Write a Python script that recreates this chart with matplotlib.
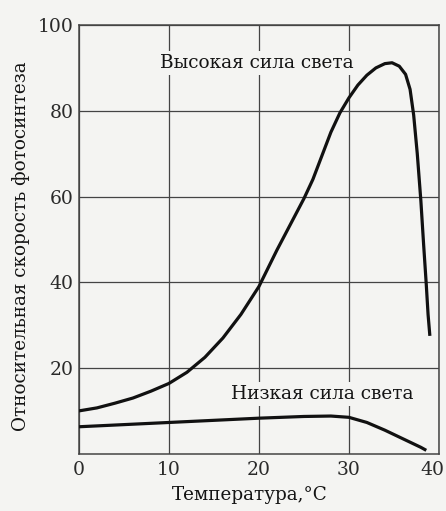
import matplotlib
matplotlib.use("Agg")
import matplotlib.pyplot as plt
from matplotlib.transforms import ScaledTranslation

# Relative photosynthesis rate vs temperature
high_x = [0, 2, 4, 6, 8, 10, 12, 14, 16, 18, 20, 22, 24, 25, 26, 28, 29, 30, 31, 32, 33, 34, 34.8,
          35.6, 36.3, 36.8, 37.2, 37.6, 38.0, 38.3, 38.6, 38.8, 39.0]
high_y = [10, 10.7, 11.8, 13, 14.6, 16.4, 19, 22.5, 27, 32.5, 39, 47.5, 55.5, 59.5, 64, 75, 79.5, 83, 86, 88.3, 90, 91, 91.2,
          90.4, 88.5, 85, 79, 70, 59, 49, 39.5, 32.5, 27.5]

low_x = [0, 5, 10, 15, 20, 25, 28, 30, 32, 34, 35, 36, 37, 38, 38.6]
low_y = [6.3, 6.8, 7.3, 7.8, 8.3, 8.7, 8.8, 8.5, 7.3, 5.5, 4.5, 3.5, 2.5, 1.5, 0.8]

x_ticks = [0, 10, 20, 30, 40]
y_ticks = [20, 40, 60, 80, 100]

label_high = "Высокая сила света"
label_low = "Низкая сила света"
x_title = "Температура,°C"
y_title = "Относительная скорость фотосинтеза"

plt.rcParams['font.family'] = ['DejaVu Serif']

bg = '#f4f4f2'
ink = '#141414'
fig = plt.figure(figsize=(4.46, 5.11), dpi=100, facecolor=bg)
ax = fig.add_axes([0.177, 0.112, 0.807, 0.839], facecolor=bg)

ax.plot(high_x, high_y, color='#111111', lw=2.3, solid_capstyle='butt', solid_joinstyle='round', zorder=3)
ax.plot(low_x, low_y, color='#111111', lw=2.3, solid_capstyle='butt', solid_joinstyle='round', zorder=3)

ax.set_xlim(0, 40)
ax.set_ylim(0, 100)
ax.set_xticks(x_ticks)
ax.set_yticks(y_ticks)
ax.grid(True, color='#444444', lw=0.9)
ax.set_axisbelow(True)
for s in ax.spines.values():
    s.set_color('#444444')
    s.set_linewidth(1.1)
ax.tick_params(length=0, labelsize=13.5, colors='#2a2a2a')
ax.tick_params(axis='x', pad=5)
ax.tick_params(axis='y', pad=4)

# keep the last x tick label inside the figure
last = ax.get_xticklabels()[-1]
last.set_horizontalalignment('right')
last.set_transform(last.get_transform() + ScaledTranslation(6 / 100, 0, fig.dpi_scale_trans))

box = dict(boxstyle='square,pad=0.15', facecolor=bg, edgecolor='none')
ax.text(19.8, 91.1, label_high, ha='center', va='center', fontsize=13.3, color=ink, bbox=box, zorder=2)
ax.text(27.0, 13.9, label_low, ha='center', va='center', fontsize=13.3, color=ink, bbox=box, zorder=2)

fig.text(0.561, 0.031, x_title, ha='center', va='center', fontsize=13.2, color=ink)
fig.text(0.047, 0.518, y_title, ha='center', va='center', rotation=90, fontsize=13.2, color=ink)

fig.savefig("out.png", dpi=100, facecolor=bg)
